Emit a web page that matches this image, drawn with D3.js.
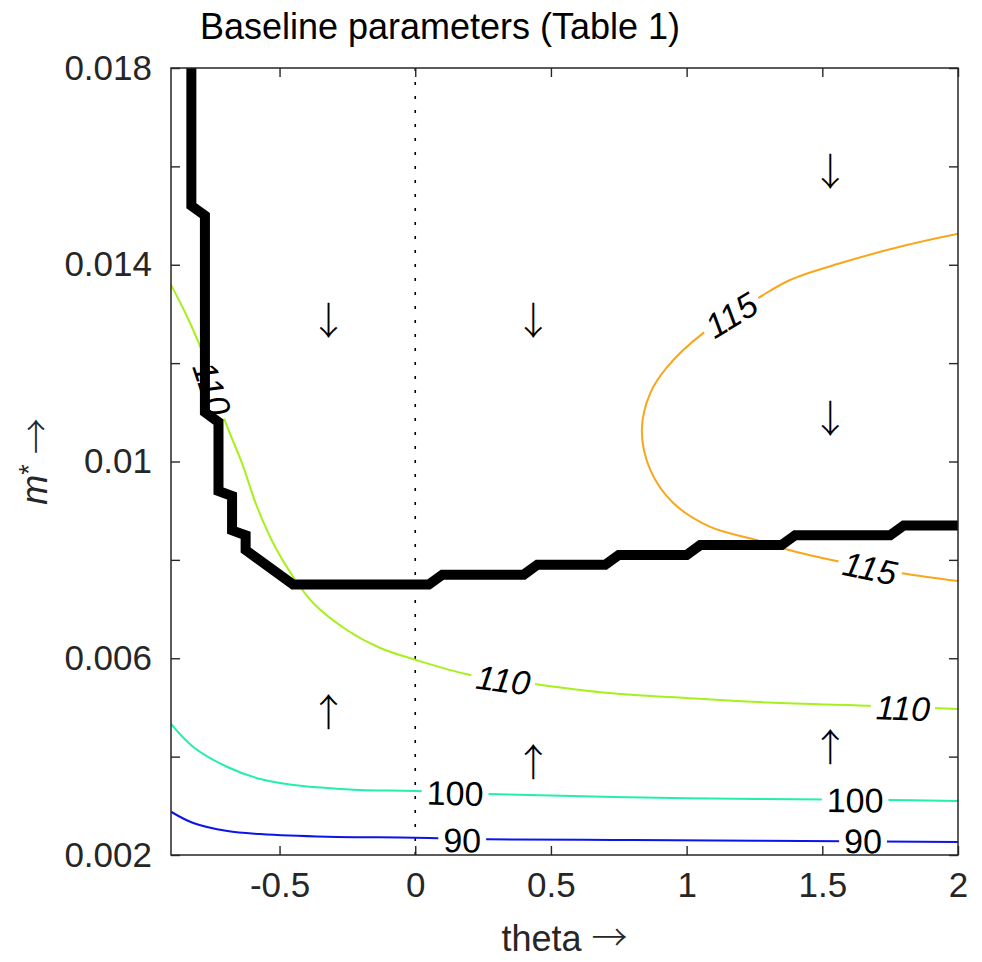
<!DOCTYPE html>
<html>
<head>
<meta charset="utf-8">
<script src="https://cdn.jsdelivr.net/npm/d3@7"></script>
<style>
  body { margin: 0; background: #fff; }
  text { font-family: "Liberation Sans", Arial, sans-serif; }
</style>
</head>
<body>
<div id="chart"></div>
<script>
// axis ticks
const thetaTicks = [-0.5, 0, 0.5, 1, 1.5, 2];
const mTicks = [0.002, 0.004, 0.006, 0.008, 0.01, 0.012, 0.014, 0.016, 0.018];
const mTickLabels = ["0.002", "", "0.006", "", "0.01", "", "0.014", "", "0.018"];

// thick black boundary [theta, m*]
const boundary = [
  [-0.825, 0.0180], [-0.825, 0.0152], [-0.775, 0.0150], [-0.775, 0.0110],
  [-0.725, 0.0108], [-0.725, 0.0094], [-0.675, 0.0093], [-0.675, 0.0086],
  [-0.625, 0.0085], [-0.625, 0.0082], [-0.45, 0.0075], [0.05, 0.0075],
  [0.10, 0.0077], [0.40, 0.0077], [0.45, 0.0079], [0.70, 0.0079],
  [0.75, 0.0081], [1.00, 0.0081], [1.05, 0.0083], [1.35, 0.0083],
  [1.40, 0.0085], [1.75, 0.0085], [1.80, 0.0087], [2.0, 0.0087]
];

// contour lines [theta, m*]
const level90 = [
  [-0.9, 0.00288], [-0.818, 0.002651], [-0.692, 0.002488], [-0.571, 0.002427],
  [-0.324, 0.002372], [0, 0.002352], [0.266, 0.002319], [0.731, 0.002305],
  [1.259, 0.002291], [2.0, 0.002264]
];
const level100 = [
  [-0.9, 0.004663], [-0.818, 0.004196], [-0.692, 0.003789], [-0.571, 0.003545],
  [-0.449, 0.003423], [-0.324, 0.003362], [-0.203, 0.003321], [0, 0.003301],
  [0.266, 0.00324], [0.731, 0.00318], [1.259, 0.00314], [1.740, 0.00312],
  [2.0, 0.00310]
];
const level110 = [
  [-0.9, 0.01359], [-0.847, 0.01302], [-0.792, 0.01233], [-0.744, 0.01156],
  [-0.700, 0.01081], [-0.638, 0.00996], [-0.583, 0.00908], [-0.516, 0.00826],
  [-0.454, 0.00769], [-0.376, 0.007123], [-0.252, 0.006574], [-0.129, 0.006208],
  [0, 0.00597], [0.203, 0.00566], [0.431, 0.00548], [0.681, 0.00531],
  [0.997, 0.00519], [1.3, 0.00510], [1.694, 0.00503], [2.0, 0.00497]
];
const level115 = [
  [2.0, 0.01463], [1.811, 0.01440], [1.565, 0.01403], [1.381, 0.01369],
  [1.263, 0.01332], [1.061, 0.01261], [0.928, 0.01192],
  [0.866, 0.01139], [0.835, 0.01064], [0.866, 0.00983], [0.950, 0.00916],
  [1.087, 0.00867], [1.260, 0.00840], [1.363, 0.00822], [1.565, 0.00796],
  [1.794, 0.00773], [2.0, 0.00757]
];

const levels = [90, 100, 110, 115];
const levelLines = [level90, level100, level110, level115];
const levelColors = ["#0c14e8", "#22f0a8", "#a6f01c", "#f9a61c"];

// contour labels [level, theta, m*]
const labelSpots = [
  [90, 0.173, 0.002305], [90, 1.650, 0.002285],
  [100, 0.147, 0.00326], [100, 1.621, 0.003118],
  [110, -0.748, 0.01148], [110, 0.324, 0.00556], [110, 1.797, 0.00499],
  [115, 1.164, 0.01298], [115, 1.676, 0.007835]
];

// direction arrows [theta, m*]
const arrowsDown = [[-0.320, 0.01288], [0.435, 0.01288], [1.529, 0.01589], [1.529, 0.01088]];
const arrowsUp = [[-0.320, 0.00491], [0.435, 0.00389], [1.529, 0.00418]];

const W = 982, H = 962;
const margin = {top: 68, right: 24, bottom: 107, left: 171};
const width = W - margin.left - margin.right,
      height = H - margin.top - margin.bottom;
const axisColor = "#262626";
const arrowFont = "'Noto Sans CJK JP', 'DejaVu Sans', sans-serif";

const svg = d3.select("#chart").append("svg")
  .attr("width", W).attr("height", H);

const x = d3.scaleLinear().domain([-0.9, 2]).range([0, width]);
const y = d3.scaleLinear().domain([0.002, 0.018]).range([height, 0]);

const g = svg.append("g").attr("transform", `translate(${margin.left},${margin.top})`);

const defs = svg.append("defs");
defs.append("clipPath").attr("id", "plotclip")
  .append("rect").attr("width", width).attr("height", height);

const line = d3.line().x(d => x(d[0])).y(d => y(d[1]));

// label angle from the nearest piece of the contour
function labelAngle(pts, px, py) {
  const P = pts.map(d => [x(d[0]), y(d[1])]);
  let best = 0, bd = Infinity;
  P.forEach((p, i) => {
    const dd = (p[0] - px) ** 2 + (p[1] - py) ** 2;
    if (dd < bd) { bd = dd; best = i; }
  });
  const a = P[Math.max(0, best - 1)], b = P[Math.min(P.length - 1, best + 1)];
  let ang = Math.atan2(b[1] - a[1], b[0] - a[0]) * 180 / Math.PI;
  if (ang > 90) ang -= 180;
  if (ang < -90) ang += 180;
  return ang;
}

const plot = g.append("g").attr("clip-path", "url(#plotclip)");

// zero line
plot.append("line")
  .attr("x1", x(0)).attr("x2", x(0)).attr("y1", 0).attr("y2", height)
  .attr("stroke", "#000").attr("stroke-width", 1.6)
  .attr("stroke-dasharray", "3,11");

// labels first, then masks that break the lines under them
const labelLayer = g.append("g");
const labelInfo = labelSpots.map(([lev, t, m]) => {
  const li = levels.indexOf(lev);
  const px = x(t), py = y(m);
  const ang = labelAngle(levelLines[li], px, py);
  const txt = labelLayer.append("text")
    .attr("transform", `translate(${px},${py}) rotate(${ang})`)
    .attr("text-anchor", "middle")
    .attr("dy", "0.36em")
    .style("font-size", "34px")
    .style("font-style", lev >= 110 ? "italic" : "normal")
    .attr("fill", "#000")
    .text(lev);
  const w = txt.node().getComputedTextLength();
  return {li, px, py, ang, w};
});

levels.forEach((lev, i) => {
  const mask = defs.append("mask").attr("id", "mask" + i)
    .attr("maskUnits", "userSpaceOnUse")
    .attr("x", -50).attr("y", -50).attr("width", width + 100).attr("height", height + 100);
  mask.append("rect").attr("x", -50).attr("y", -50)
    .attr("width", width + 100).attr("height", height + 100).attr("fill", "#fff");
  labelInfo.filter(d => d.li === i).forEach(d => {
    mask.append("rect")
      .attr("x", -d.w / 2 - 5).attr("y", -14).attr("width", d.w + 10).attr("height", 28)
      .attr("transform", `translate(${d.px},${d.py}) rotate(${d.ang})`)
      .attr("fill", "#000");
  });
  plot.append("path")
    .datum(levelLines[i])
    .attr("d", line.curve(d3.curveCatmullRom))
    .attr("fill", "none")
    .attr("stroke", levelColors[i])
    .attr("stroke-width", 2)
    .attr("mask", `url(#mask${i})`);
});

// boundary
plot.append("path")
  .datum(boundary)
  .attr("d", line.curve(d3.curveLinear))
  .attr("fill", "none")
  .attr("stroke", "#000")
  .attr("stroke-width", 10)
  .attr("stroke-linejoin", "miter");

labelLayer.raise();

// arrows
g.selectAll(".adown").data(arrowsDown).join("text")
  .attr("x", d => x(d[0])).attr("y", d => y(d[1]))
  .attr("dy", "0.36em").attr("text-anchor", "middle")
  .style("font-family", arrowFont).style("font-weight", 200)
  .style("font-size", "38px").attr("fill", "#000").text("↓");
g.selectAll(".aup").data(arrowsUp).join("text")
  .attr("x", d => x(d[0])).attr("y", d => y(d[1]))
  .attr("dy", "0.36em").attr("text-anchor", "middle")
  .style("font-family", arrowFont).style("font-weight", 200)
  .style("font-size", "38px").attr("fill", "#000").text("↑");

// axes
const tick = 9;
g.append("g")
  .attr("transform", `translate(0,${height})`)
  .call(d3.axisBottom(x).tickValues(thetaTicks).tickSize(-tick).tickPadding(17)
    .tickFormat(d => String(d)))
  .call(a => a.select(".domain").remove());
g.append("g")
  .call(d3.axisTop(x).tickValues(thetaTicks).tickSize(-tick).tickFormat(""))
  .call(a => a.select(".domain").remove());
g.append("g")
  .call(d3.axisLeft(y).tickValues(mTicks).tickSize(-tick).tickPadding(19)
    .tickFormat((d, i) => mTickLabels[i]))
  .call(a => a.select(".domain").remove());
g.append("g")
  .attr("transform", `translate(${width},0)`)
  .call(d3.axisRight(y).tickValues(mTicks).tickSize(-tick).tickFormat(""))
  .call(a => a.select(".domain").remove());

g.selectAll(".tick line").attr("stroke", axisColor).attr("stroke-width", 1.4);
g.selectAll(".tick text")
  .attr("fill", axisColor)
  .style("font-size", "35px")
  .style("font-family", "'Liberation Sans', Arial, sans-serif");

g.append("rect")
  .attr("width", width).attr("height", height)
  .attr("fill", "none").attr("stroke", axisColor).attr("stroke-width", 1.5);

// title and axis labels
svg.append("text")
  .attr("x", 440).attr("y", 39)
  .attr("text-anchor", "middle")
  .style("font-size", "36px").attr("fill", "#000")
  .text("Baseline parameters (Table 1)");

const xl = svg.append("text")
  .attr("x", margin.left + width / 2).attr("y", 951)
  .attr("text-anchor", "middle")
  .style("font-size", "36px").attr("fill", axisColor);
xl.append("tspan").text("theta ");
xl.append("tspan").style("font-family", arrowFont).style("font-weight", 200).text("→");

const yl = svg.append("text")
  .attr("transform", `translate(47,${margin.top + height / 2}) rotate(-90)`)
  .attr("text-anchor", "middle")
  .style("font-size", "36px").attr("fill", axisColor);
yl.append("tspan").style("font-style", "italic").text("m");
yl.append("tspan").attr("dy", "-0.35em").style("font-size", "27px").text("*");
yl.append("tspan").attr("dy", "0.35em").text(" ");
yl.append("tspan").style("font-family", arrowFont).style("font-weight", 200).text("→");
</script>
</body>
</html>
